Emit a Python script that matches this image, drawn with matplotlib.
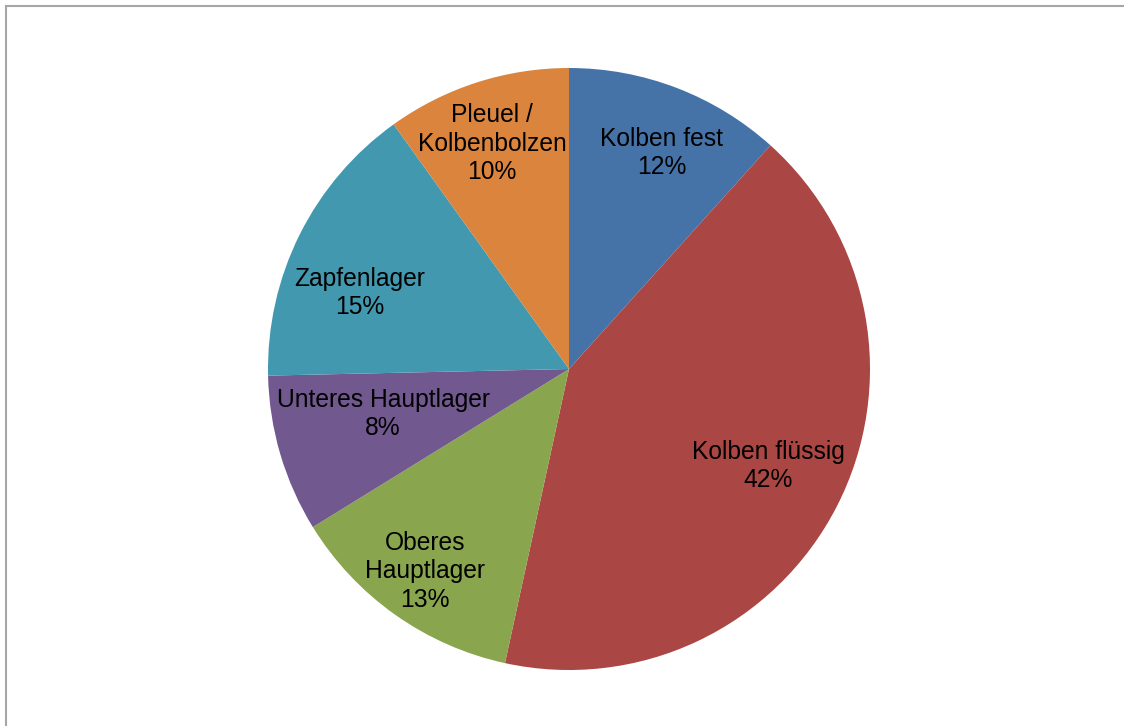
import numpy as np
import matplotlib
matplotlib.use("Agg")
import matplotlib.pyplot as plt
from matplotlib.lines import Line2D

# Share of damage cases by component (percent)
categories = ["Kolben fest", "Kolben flüssig", "Oberes\nHauptlager",
              "Unteres Hauptlager", "Zapfenlager", "Pleuel /\nKolbenbolzen"]
shares = [11.67, 41.74, 12.79, 8.45, 15.45, 9.90]
colors = ["#4572A7", "#AA4643", "#89A54E", "#71588F", "#4198AF", "#DB843D"]
# label placement: radial fraction and clockwise angular shift (deg) from the wedge middle
label_radius = [0.787, 0.732, 0.820, 0.634, 0.741, 0.798]
label_shift = [2.1, -1.7, 0.4, 3.5, -6.1, -0.9]

plt.rcParams["font.family"] = ["Liberation Sans", "DejaVu Sans"]

W, H = 1124, 726
fig = plt.figure(figsize=(W / 100, H / 100), dpi=100)
ax = fig.add_axes([0, 0, 1, 1])

cx, cy, R = 569, H - 369, 301
ax.pie(shares, colors=colors, startangle=90, counterclock=False,
       center=(cx, cy), radius=R, frame=True,
       wedgeprops=dict(linewidth=0))
ax.set_xlim(0, W)
ax.set_ylim(0, H)
ax.set_aspect("equal")
ax.axis("off")

total = sum(shares)
start = 90.0
for name, val, rf, sh in zip(categories, shares, label_radius, label_shift):
    span = 360.0 * val / total
    mid = np.deg2rad(start - span / 2 - sh)
    start -= span
    x = cx + rf * R * np.cos(mid)
    y = cy + rf * R * np.sin(mid) - 2  # center on the glyphs rather than the line box
    pct = round(100 * val / total)
    ax.text(x, y, f"{name}\n{pct}%", ha="center", va="center",
            fontsize=17.7, color="black", linespacing=1.22)

# chart area frame
fig.add_artist(Line2D([6 / W, 1], [1 - 6 / H, 1 - 6 / H], color="#A6A6A6", lw=1.5))
fig.add_artist(Line2D([6 / W, 6 / W], [0, 1 - 6 / H], color="#A6A6A6", lw=1.5))

fig.savefig("out.png", dpi=100)
